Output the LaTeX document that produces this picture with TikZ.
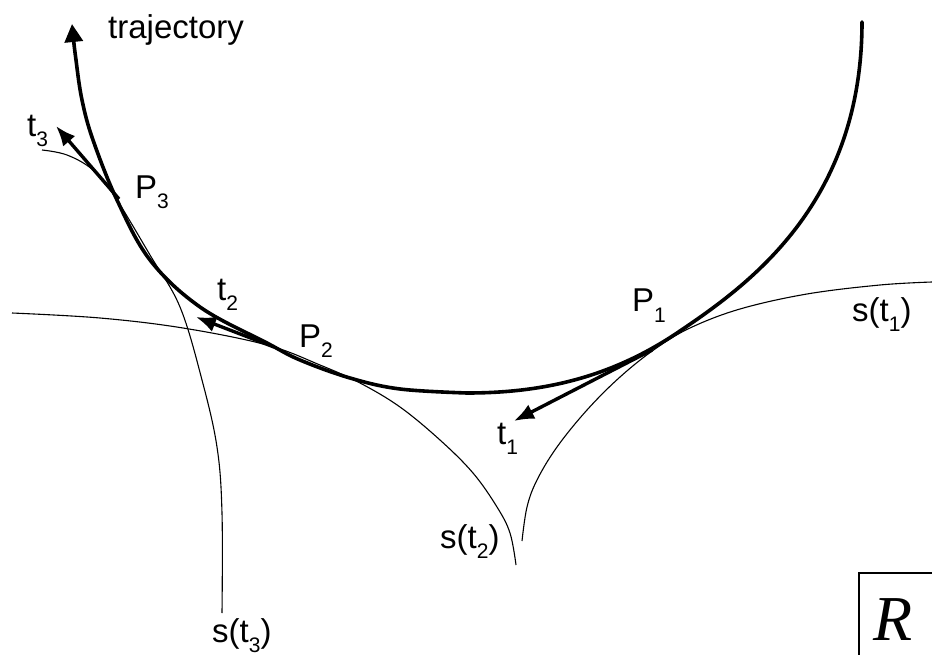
\documentclass[tikz,border=0pt]{standalone}
\usepackage{fontspec}
\setmainfont{Liberation Sans}
\newfontfamily\rfont{Liberation Serif}
\usetikzlibrary{arrows.meta}
\newcommand{\lbsub}[1]{\raisebox{-10pt}{\fontsize{21}{21}\selectfont #1}}
\begin{document}
\begin{tikzpicture}[x=1pt,y=-1pt,
  traj/.style={line width=3.6pt,line cap=round},
  tang/.style={line width=3.4pt,-{Latex[length=20pt,width=16pt]}},
  envl/.style={line width=1.1pt},
  lab/.style={inner sep=0pt,anchor=base west,font=\fontsize{33}{33}\selectfont}]
\useasboundingbox (0,0) rectangle (932,655);
% tangent points and tips
\coordinate (P1) at (652,350);
\coordinate (P2) at (274,347);
\coordinate (P3) at (119,199);
\coordinate (T1) at (514,421);
\coordinate (T2) at (196,317);
\coordinate (T3) at (56,126);
\coordinate (B) at (467,393);
\coordinate (M) at (677,333);
\coordinate (E) at (862,22);
% envelope curves
\draw[envl] plot[smooth,tension=0.6] coordinates {(932,282) (880,285) (807,294) (740,309) (690,328) (655,349) (620,377) (587,410) (557,447) (537,480) (527,507) (522,541)};
\draw[envl] plot[smooth,tension=0.6] coordinates {(12,313) (100,318) (183,328) (267,345) (320,365) (360,383) (400,407) (440,440) (473,473) (497,507) (510,533) (516,565)};
\draw[envl] plot[smooth,tension=0.6] coordinates {(42,150) (67,155) (93,170) (115,197) (150,255) (180,307) (202,380) (217,447) (222,513) (222,613)};
% trajectory
\draw[traj,{Triangle[length=18pt,width=18pt]}-] plot[smooth,tension=0.6] coordinates {(72,24) (76,60) (82,100) (93,140) (117,200) (150,260) (200,307) (267,343) (300,360) (350,378) (400,389) (467,393)}
  .. controls (537,393) and (607,380) .. (M)
  .. controls (747,286) and (862,205) .. (E);
% tangent arrows
\draw[tang] (P1) -- (T1);
\draw[tang] (P2) -- (T2);
\draw[tang] (P3) -- (T3);
% labels
\node[lab] (ltraj) at (108,39) {trajectory};
\node[lab] (lt3) at (27,137) {t\lbsub{3}};
\node[lab] (lP3) at (135,199) {P\lbsub{3}};
\node[lab] (lt2) at (217,300) {t\lbsub{2}};
\node[lab] (lP2) at (299,347) {P\lbsub{2}};
\node[lab] (lP1) at (632,312) {P\lbsub{1}};
\node[lab] (lt1) at (497,444) {t\lbsub{1}};
\node[lab] (ls1) at (852,321) {s(t\lbsub{1})};
\node[lab] (ls2) at (440,548) {s(t\lbsub{2})};
\node[lab] (ls3) at (212,642) {s(t\lbsub{3})};
% R box
\coordinate (Rc) at (859,573);
\draw[line width=2pt] (932,573) -- (Rc) -- (859,656);
\node[inner sep=0pt,anchor=base west,font=\rfont\itshape\fontsize{64}{64}\selectfont] (lR) at (873,640) {R};
\end{tikzpicture}
\end{document}
